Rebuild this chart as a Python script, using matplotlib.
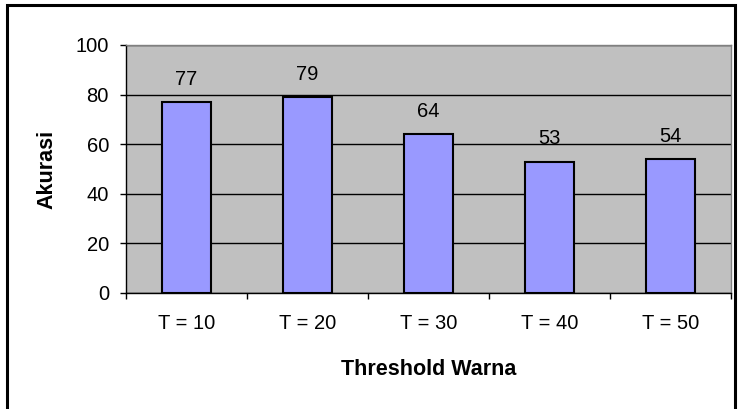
import matplotlib
matplotlib.use("Agg")
import matplotlib.pyplot as plt
from matplotlib.patches import Rectangle

categories = ["T = 10", "T = 20", "T = 30", "T = 40", "T = 50"]
accuracy = [77, 79, 64, 53, 54]
y_ticks = [0, 20, 40, 60, 80, 100]

W, H = 738, 409
fig = plt.figure(figsize=(W / 100, H / 100), dpi=100)
fig.patch.set_facecolor("white")
plt.rcParams["font.family"] = ["Liberation Sans", "DejaVu Sans"]

TICK_FS = 14.5
TITLE_FS = 15.5

# chart border
fig.add_artist(Rectangle((7 / W, -0.02), (735 - 7) / W, 1.02 - 5 / H,
                         transform=fig.transFigure, fill=False,
                         edgecolor="black", linewidth=2.2))

left, right, top, bottom = 126, 731, 45, 293
ax = fig.add_axes([left / W, 1 - bottom / H, (right - left) / W, (bottom - top) / H])
ax.set_facecolor("#c0c0c0")

x = list(range(len(categories)))
bars = ax.bar(x, accuracy, width=0.40, color="#9999ff", edgecolor="black",
              linewidth=1.5, zorder=3)
for xi, v in zip(x, accuracy):
    ax.annotate(str(v), (xi, v), xytext=(0, 12.5), textcoords="offset points",
                ha="center", va="baseline", fontsize=TICK_FS)

ax.set_xlim(-0.5, len(categories) - 0.5)
ax.set_ylim(0, 100)
ax.set_yticks(y_ticks)
ax.set_yticklabels([str(t) for t in y_ticks], fontsize=TICK_FS)
ax.yaxis.grid(True, color="black", linewidth=1.0, zorder=1)
ax.set_axisbelow(True)

ax.set_xticks(x)
ax.set_xticklabels(categories, fontsize=TICK_FS)
ax.tick_params(axis="x", length=0, pad=15)
ax.set_xticks([i - 0.5 for i in range(len(categories) + 1)], minor=True)
ax.tick_params(axis="x", which="minor", length=4.3, width=1.0, direction="out")
ax.tick_params(axis="y", length=4.3, width=1.0, direction="out", pad=8)

for s in ["top", "right"]:
    ax.spines[s].set_color("#808080")
    ax.spines[s].set_linewidth(1.0)
for s in ["left", "bottom"]:
    ax.spines[s].set_color("black")
    ax.spines[s].set_linewidth(1.0)

ax.set_xlabel("Threshold Warna", fontsize=TITLE_FS, fontweight="bold", labelpad=19)
ax.set_ylabel("Akurasi", fontsize=TITLE_FS, fontweight="bold", labelpad=13)

fig.savefig("out.png", dpi=100)
